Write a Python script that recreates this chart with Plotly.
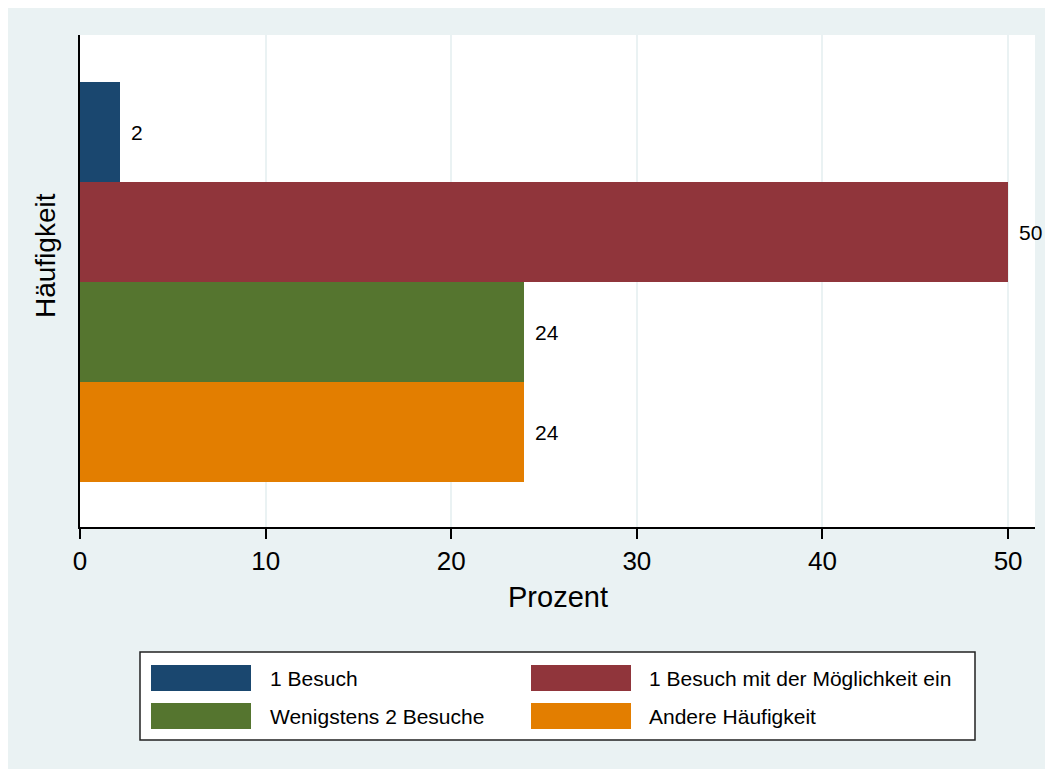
import plotly.graph_objects as go

# ---- data ----
categories = ["1 Besuch", "1 Besuch mit der Möglichkeit ein", "Wenigstens 2 Besuche", "Andere Häufigkeit"]
values = [2.15, 50.0, 23.92, 23.92]
colors = ["#1A476F", "#90353B", "#55752F", "#E37E00"]
x_ticks = [0, 10, 20, 30, 40, 50]
x_title = "Prozent"
y_title = "Häufigkeit"

OFF = 8  # page body margin
W, H = 1053 - OFF, 769 - OFF
# plot area in screen pixels: x 80..1035, y 35..527
L, T = 80 - OFF, 35 - OFF
R = W - (1035 - OFF)
B = H - (527 - OFF)
PW, PH = W - L - R, H - T - B
FONT = "Liberation Sans, Arial, sans-serif"


def px(x):
    return (x - OFF - L) / PW


def py(y):
    return (H - B - (y - OFF)) / PH


fig = go.Figure()
for i, (cat, val, col) in enumerate(zip(categories, values, colors)):
    fig.add_trace(go.Bar(
        x=[val], y=[i], orientation="h", width=1.0, name=cat,
        marker=dict(color=col, line=dict(width=0)), showlegend=False,
        hoverinfo="x+name",
    ))
    fig.add_annotation(x=val, y=i, xref="x", yref="y", text=str(round(val)),
                       showarrow=False, xanchor="left", yanchor="middle", xshift=9,
                       font=dict(size=21, color="black", family=FONT))

shapes = []
# custom legend
shapes.append(dict(type="rect", xref="paper", yref="paper", x0=px(140), x1=px(975), y0=py(740), y1=py(652),
                   fillcolor="white", line=dict(color="#222222", width=1.5), layer="above"))
sw_x = [(151, 251), (531, 631)]
sw_y = [(665, 691), (703, 729)]
txt_x = [268, 647]
for i, (cat, col) in enumerate(zip(categories, colors)):
    c, r = i % 2, i // 2
    shapes.append(dict(type="rect", xref="paper", yref="paper",
                       x0=px(sw_x[c][0]), x1=px(sw_x[c][1]), y0=py(sw_y[r][1]), y1=py(sw_y[r][0]),
                       fillcolor=col, line=dict(width=0), layer="above"))
    fig.add_annotation(x=px(txt_x[c]), y=py((sw_y[r][0] + sw_y[r][1]) / 2), xref="paper", yref="paper",
                       text=cat, showarrow=False, xanchor="left", yanchor="middle",
                       font=dict(size=21, color="black", family=FONT))

# axis titles
fig.add_annotation(x=px(558), y=py(597), xref="paper", yref="paper", text=x_title, showarrow=False,
                   xanchor="center", yanchor="middle", font=dict(size=29, color="black", family=FONT))
fig.add_annotation(x=px(45), y=py(256), xref="paper", yref="paper", text=y_title, showarrow=False,
                   textangle=-90, xanchor="center", yanchor="middle",
                   font=dict(size=28, color="black", family=FONT))

fig.update_layout(
    width=W, height=H,
    margin=dict(l=L, r=R, t=T, b=B, pad=0),
    paper_bgcolor="#EAF2F3", plot_bgcolor="white",
    font=dict(family=FONT, color="black"),
    showlegend=False, bargap=0, barmode="overlay",
    shapes=shapes,
    xaxis=dict(range=[0, 51.45], tickvals=x_ticks, ticktext=[str(t) for t in x_ticks],
               ticks="outside", ticklen=10, tickwidth=2, tickcolor="black",
               tickfont=dict(size=26, color="black", family=FONT),
               showline=True, linecolor="black", linewidth=2,
               showgrid=True, gridcolor="#EAF2F3", gridwidth=2, zeroline=False),
    yaxis=dict(range=[3.95, -0.97], showticklabels=False, ticks="", showgrid=False, zeroline=False,
               showline=True, linecolor="black", linewidth=2),
)

fig.write_html("out.html")
